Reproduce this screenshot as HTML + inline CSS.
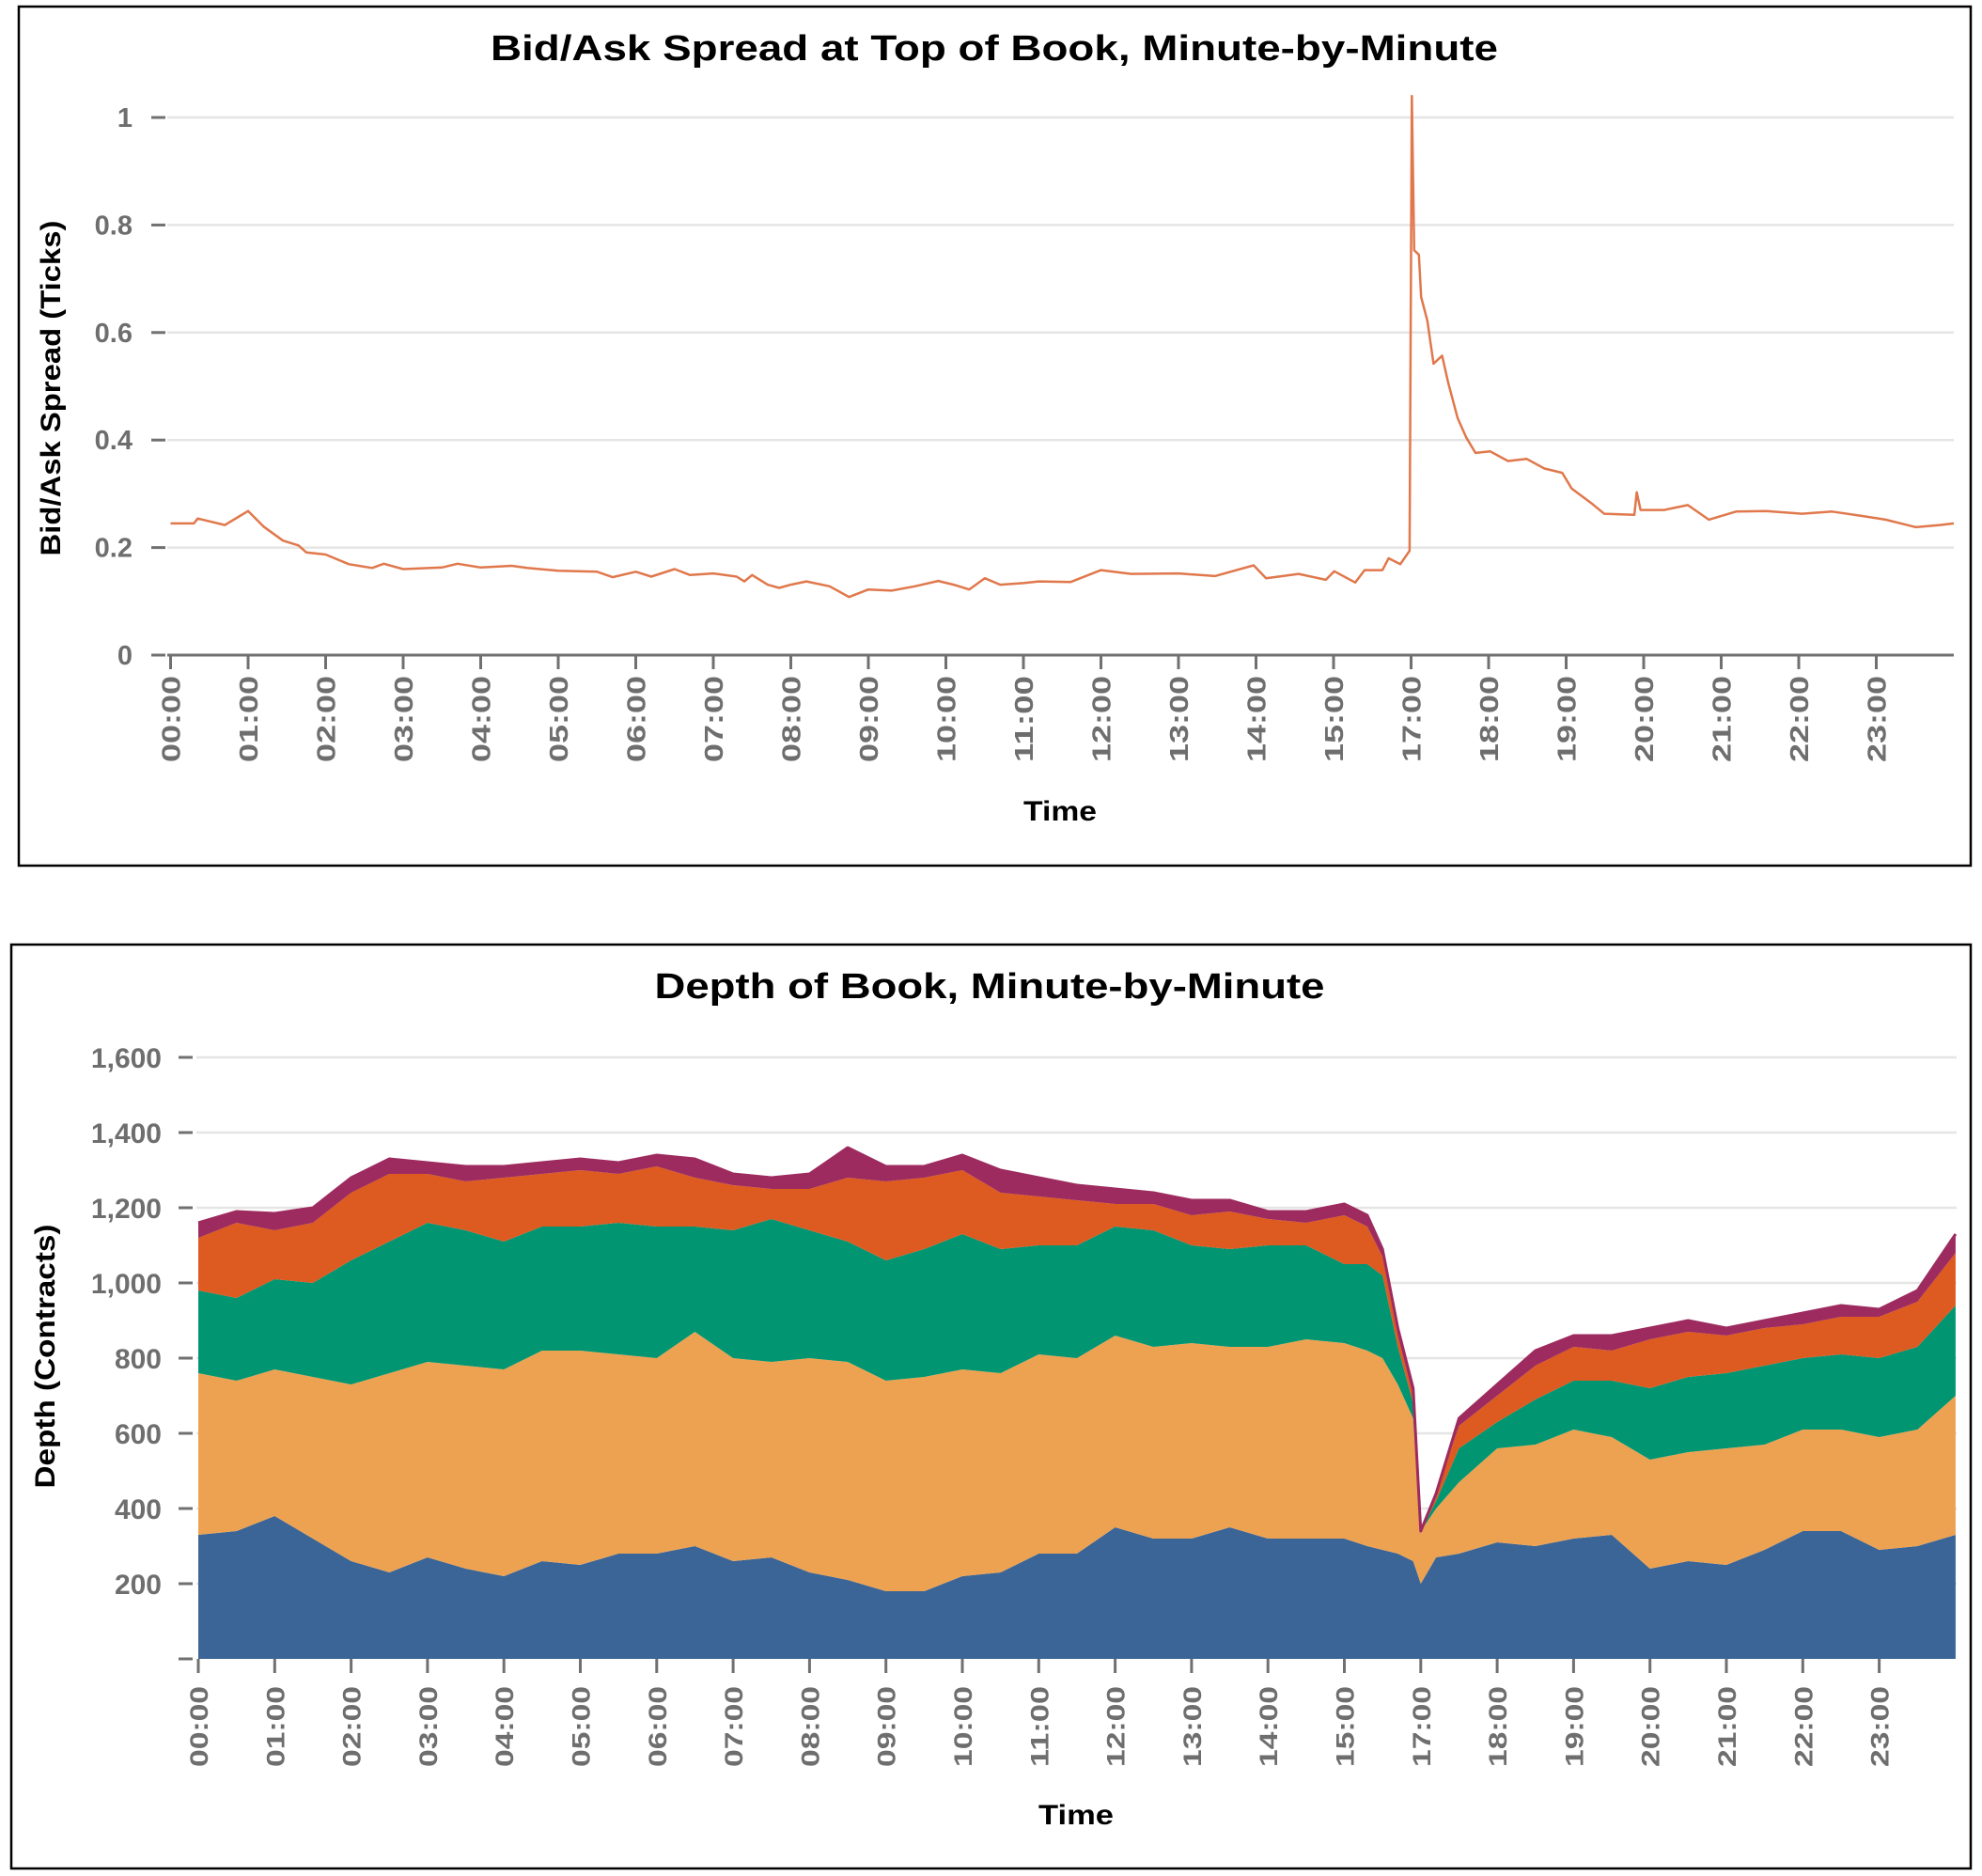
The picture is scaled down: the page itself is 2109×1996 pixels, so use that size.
<!DOCTYPE html>
<html><head><meta charset="utf-8"><style>
html,body{margin:0;padding:0;background:#fff}
svg{display:block}
text{font-family:"Liberation Sans",sans-serif;font-weight:bold}
</style></head><body>
<svg id="chart" width="2109" height="1996" viewBox="0 0 2109 1996" xmlns="http://www.w3.org/2000/svg">
<rect x="20" y="7" width="2077" height="914" fill="none" stroke="#000" stroke-width="2.5"/>
<rect x="12" y="1005" width="2085" height="983" fill="none" stroke="#000" stroke-width="2.5"/>
<text x="1058" y="64" text-anchor="middle" font-size="38" textLength="1072" lengthAdjust="spacingAndGlyphs" fill="#000">Bid/Ask Spread at Top of Book, Minute-by-Minute</text>
<text x="1053" y="1062" text-anchor="middle" font-size="38" textLength="713" lengthAdjust="spacingAndGlyphs" fill="#000">Depth of Book, Minute-by-Minute</text>
<text x="1128" y="873" text-anchor="middle" font-size="30" textLength="78" lengthAdjust="spacingAndGlyphs">Time</text>
<text x="1145" y="1941" text-anchor="middle" font-size="30" textLength="80" lengthAdjust="spacingAndGlyphs">Time</text>
<text transform="translate(64,413) rotate(-90)" text-anchor="middle" font-size="30" textLength="357" lengthAdjust="spacingAndGlyphs">Bid/Ask Spread (Ticks)</text>
<text transform="translate(58,1443) rotate(-90)" text-anchor="middle" font-size="30" textLength="281" lengthAdjust="spacingAndGlyphs">Depth (Contracts)</text>
<g id="topGroup"></g>
<g id="botGroup"></g>
</svg>
<script>
const NS="http://www.w3.org/2000/svg";
// ---------- data ----------
const hourLabels=["00:00","01:00","02:00","03:00","04:00","05:00","06:00","07:00","08:00","09:00","10:00","11:00","12:00","13:00","14:00","15:00","17:00","18:00","19:00","20:00","21:00","22:00","23:00"];
const spreadTicks=[0,0.2,0.4,0.6,0.8,1];
const spreadTickLabels=["0","0.2","0.4","0.6","0.8","1"];
const spreadT=[0,0.3,0.35,0.7,1.0,1.2,1.45,1.65,1.75,2.0,2.3,2.6,2.75,3.0,3.5,3.7,4.0,4.4,4.6,5.0,5.5,5.7,6.0,6.2,6.5,6.7,7.0,7.3,7.4,7.5,7.7,7.85,8.0,8.2,8.5,8.75,9.0,9.3,9.6,9.9,10.1,10.3,10.5,10.7,11.0,11.2,11.61,12,12.39,13,13.47,13.97,14.13,14.55,14.9,15.01,15.28,15.4,15.63,15.71,15.86,15.98,16.01,16.04,16.1,16.13,16.21,16.29,16.4,16.48,16.6,16.71,16.83,17.02,17.25,17.49,17.72,17.95,18.07,18.34,18.49,18.88,18.91,18.96,19.26,19.57,19.84,20.19,20.58,21.04,21.43,21.81,22.12,22.51,22.82,23];
const spreadV=[0.245,0.245,0.254,0.242,0.268,0.239,0.213,0.204,0.191,0.187,0.169,0.162,0.170,0.160,0.163,0.170,0.163,0.166,0.162,0.157,0.155,0.145,0.155,0.146,0.160,0.149,0.152,0.146,0.137,0.149,0.131,0.125,0.131,0.137,0.128,0.108,0.122,0.120,0.128,0.138,0.131,0.122,0.143,0.131,0.134,0.137,0.136,0.158,0.151,0.152,0.147,0.167,0.143,0.151,0.140,0.156,0.135,0.158,0.158,0.180,0.169,0.194,1.04,0.753,0.745,0.666,0.622,0.542,0.557,0.506,0.441,0.405,0.376,0.379,0.361,0.365,0.347,0.339,0.310,0.281,0.263,0.261,0.303,0.270,0.270,0.279,0.252,0.267,0.268,0.263,0.267,0.259,0.252,0.238,0.242,0.245];

const depthTicks=[0,200,400,600,800,1000,1200,1400,1600];
const depthTickLabels=["","200","400","600","800","1,000","1,200","1,400","1,600"];
const depthT=[0,0.5,1,1.5,2,2.5,3,3.5,4,4.5,5,5.5,6,6.5,7,7.5,8,8.5,9,9.5,10,10.5,11,11.5,12,12.5,13,13.5,14,14.5,15,15.3,15.5,15.7,15.9,16,16.2,16.5,17,17.5,18,18.5,19,19.5,20,20.5,21,21.5,22,22.5,23];
const level1=[330,340,380,320,260,230,270,240,220,260,250,280,280,300,260,270,230,210,180,180,220,230,280,280,350,320,320,350,320,320,320,300,290,280,260,200,270,280,310,300,320,330,240,260,250,290,340,340,290,300,330];
const level2=[430,400,390,430,470,530,520,540,550,560,570,530,520,570,540,520,570,580,560,570,550,530,530,520,510,510,520,480,510,530,520,520,510,450,380,140,130,190,250,270,290,260,290,290,310,280,270,270,300,310,370];
const level3=[220,220,240,250,330,350,370,360,340,330,330,350,350,280,340,380,340,320,320,340,360,330,290,300,290,310,260,260,270,250,210,230,220,100,40,0,20,90,70,120,130,150,190,200,200,210,190,200,210,220,240];
const level4=[140,200,130,160,180,180,130,130,170,140,150,130,160,130,120,80,110,170,210,190,170,150,130,120,60,70,80,100,70,60,130,100,50,30,20,0,20,60,70,90,90,80,130,120,100,100,90,100,110,120,140];
const level5=[40,30,45,40,40,40,30,40,30,30,30,30,30,50,30,30,40,80,40,30,40,60,50,40,40,30,40,30,20,30,30,30,20,20,20,0,0,20,30,40,30,40,30,30,20,20,30,30,20,30,50];
const layers=[level1,level2,level3,level4,level5];
const layerColors=["#3b6596","#eda252","#019571","#dd5a20","#9d2b5f"];

// ---------- helpers ----------
function mk(tag,attrs,parent){const e=document.createElementNS(NS,tag);for(const k in attrs)e.setAttribute(k,attrs[k]);parent.appendChild(e);return e;}
const topG=document.getElementById('topGroup'), botG=document.getElementById('botGroup');

// ---------- top chart ----------
const tx=t=>181.5+t*82.5;
const ty=v=>697-v*572;
spreadTicks.forEach((v,i)=>{
  if(v>0){const g=mk('line',{x1:178,x2:2079,y1:ty(v),y2:ty(v),stroke:'#e5e5e5','stroke-width':2.5},topG);
  
  }
  const tk=mk('line',{x1:161,x2:176,y1:ty(v),y2:ty(v),stroke:'#707070','stroke-width':3},topG);
  
  
  const lb=mk('text',{x:141,y:ty(v)+10,'text-anchor':'end','font-size':29,fill:'#6e6e6e'},topG);
  lb.textContent=spreadTickLabels[i];
  
  
});
const ax=mk('line',{x1:178,x2:2079,y1:697,y2:697,stroke:'#707070','stroke-width':3},topG);


hourLabels.forEach((h,i)=>{
  const tk=mk('line',{x1:tx(i),x2:tx(i),y1:697,y2:712,stroke:'#707070','stroke-width':3},topG);
  
  
  const lb=mk('text',{transform:`translate(${tx(i)+10},719) rotate(-90)`,'text-anchor':'end','font-size':28,textLength:92,lengthAdjust:'spacingAndGlyphs',fill:'#6e6e6e'},topG);
  lb.textContent=h;
  
  
});
let d='';spreadT.forEach((t,i)=>{d+=(i?'L':'M')+tx(t).toFixed(1)+','+ty(spreadV[i]).toFixed(1);});
const line=mk('path',{d:d,fill:'none',stroke:'#e0784c','stroke-width':2.5,'stroke-linejoin':'round'},topG);



// ---------- bottom chart ----------
const bx=t=>211+t*81.3;
const by=v=>1765-v*0.4;
depthTicks.forEach((v,i)=>{
  if(v>0){const g=mk('line',{x1:209,x2:2082,y1:by(v),y2:by(v),stroke:'#e5e5e5','stroke-width':2.5},botG);
  
  }
  const tk=mk('line',{x1:190,x2:205,y1:by(v),y2:by(v),stroke:'#707070','stroke-width':3},botG);
  
  
  const lb=mk('text',{x:172,y:by(v)+11,'text-anchor':'end','font-size':30,fill:'#6e6e6e','font-family':'DejaVu Sans, sans-serif'},botG);
  lb.textContent=depthTickLabels[i];
  
  
});
const cum=depthT.map(()=>0);
layers.forEach((vals,li)=>{
  const lower=cum.slice();
  vals.forEach((v,i)=>cum[i]+=v);
  let p='';
  depthT.forEach((t,i)=>{p+=(i?'L':'M')+bx(t).toFixed(1)+','+by(cum[i]).toFixed(1);});
  for(let i=depthT.length-1;i>=0;i--)p+='L'+bx(depthT[i]).toFixed(1)+','+by(lower[i]).toFixed(1);
  p+='Z';
  const a=mk('path',{d:p,fill:layerColors[li]},botG);
  
  
});
let tp='';depthT.forEach((t,i)=>{tp+=(i?'L':'M')+bx(t).toFixed(1)+','+by(cum[i]).toFixed(1);});
const topLine=mk('path',{d:tp,fill:'none',stroke:'#9d2b5f','stroke-width':3,'stroke-linejoin':'round'},botG);


hourLabels.forEach((h,i)=>{
  const tk=mk('line',{x1:bx(i),x2:bx(i),y1:1765,y2:1780,stroke:'#707070','stroke-width':3},botG);
  
  
  const lb=mk('text',{transform:`translate(${bx(i)+10},1794) rotate(-90)`,'text-anchor':'end','font-size':27,textLength:86,lengthAdjust:'spacingAndGlyphs',fill:'#6e6e6e','font-family':'DejaVu Sans, sans-serif'},botG);
  lb.textContent=h;
  
  
});
</script>
</body></html>
